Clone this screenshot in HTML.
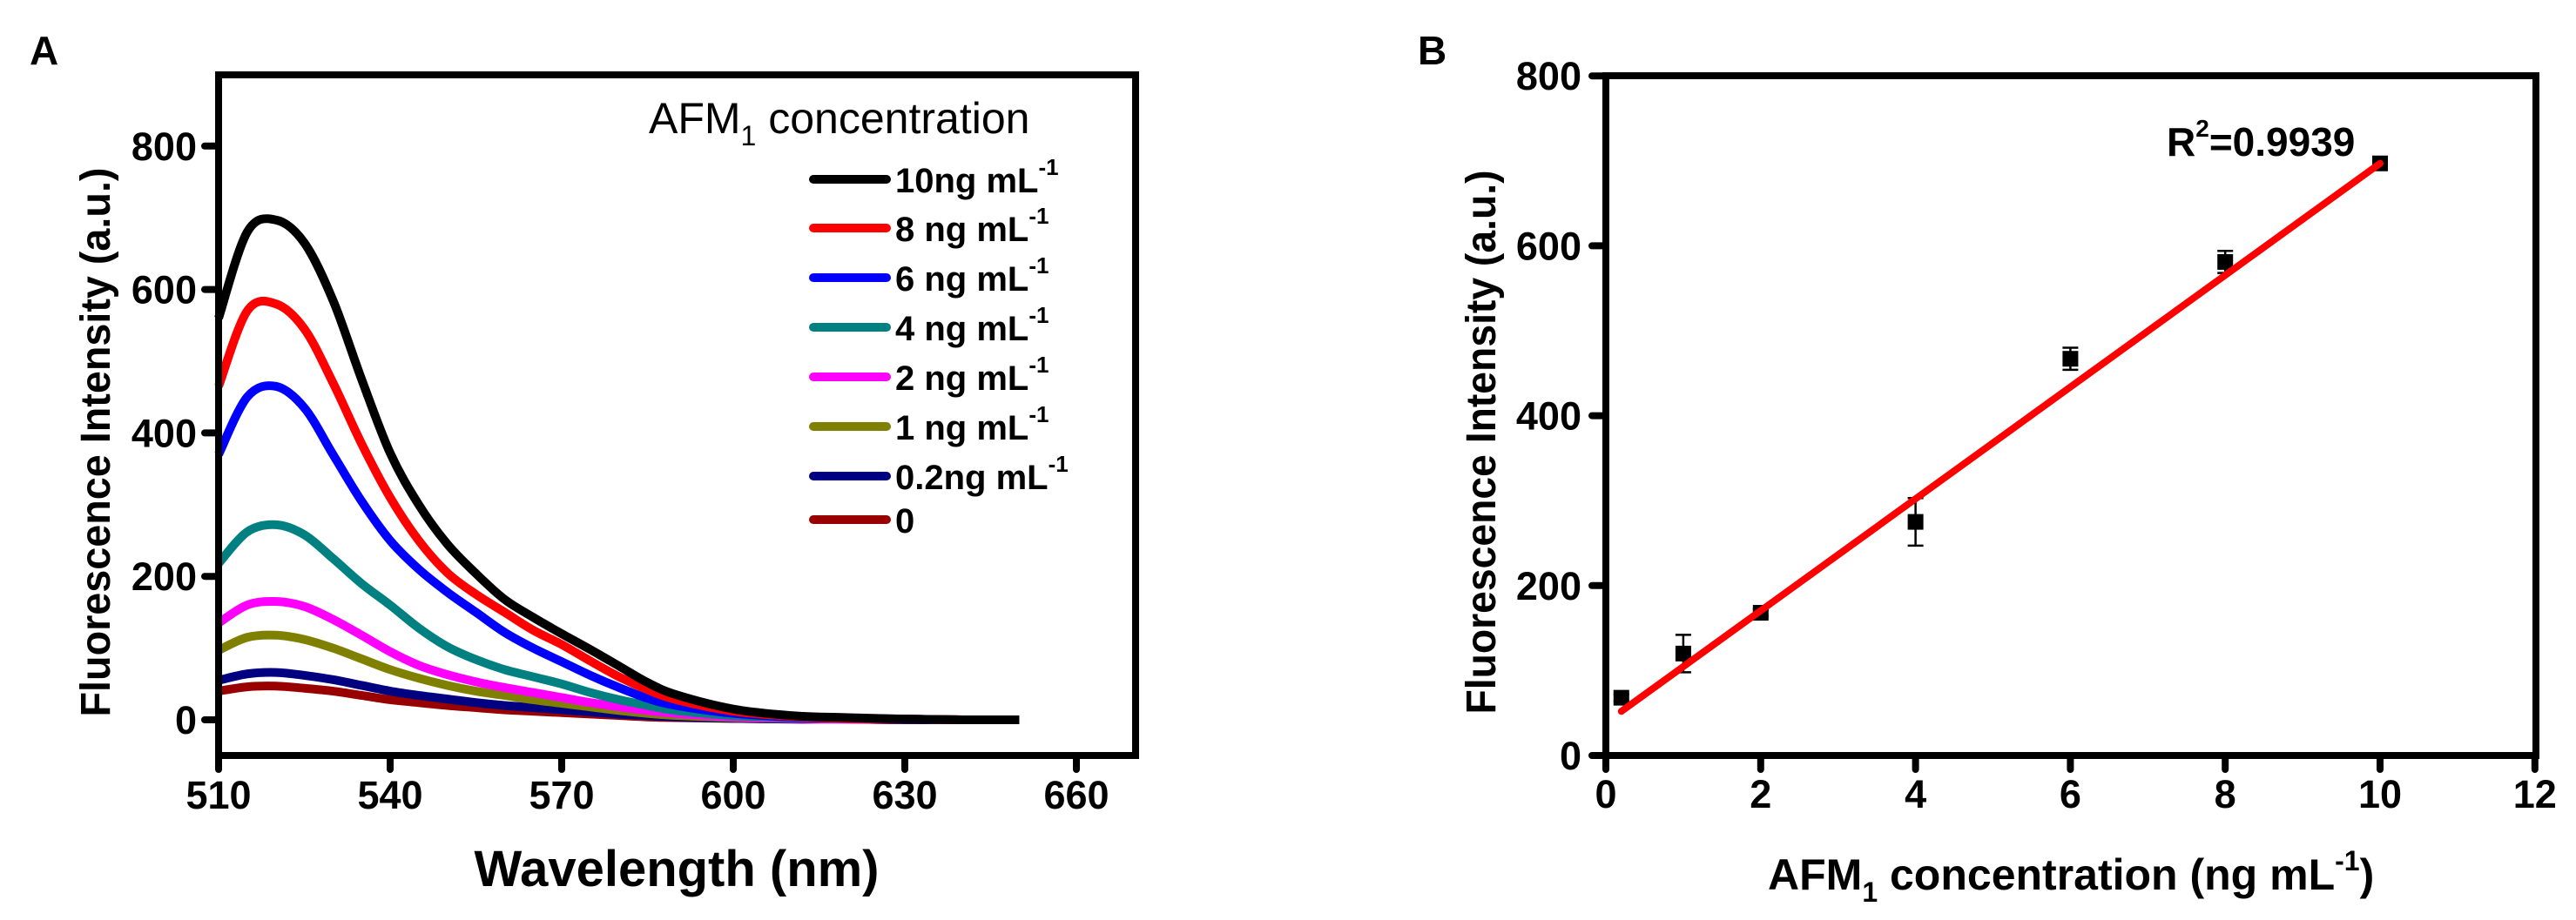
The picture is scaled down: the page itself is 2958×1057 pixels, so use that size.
<!DOCTYPE html>
<html><head><meta charset="utf-8"><style>
html,body{margin:0;padding:0;background:#fff;}
svg{display:block;font-family:"Liberation Sans",Arial,sans-serif;}
</style></head><body>
<svg id="fig" width="2958" height="1057" viewBox="0 0 2958 1057" xmlns="http://www.w3.org/2000/svg">
<rect width="2958" height="1057" fill="#fff"/>
<text x="34" y="74" font-size="46" font-weight="bold">A</text>
<text x="1628" y="74" font-size="46" font-weight="bold">B</text>
<g id="gA"></g>
<g id="gB"></g>
</svg>
<script>
// ---- Panel A data ----
const wavelengths = [510,515,520,525,530,535,540,545,550,555,560,565,570,575,580,585,590,600,610,620,630,640,650];
const s10 = [560,680,697,665,585,475,372,300,245,204,168,143,120,98,75,52,35,15,6,3,1,0,0];
const s8  = [465,570,580,545,470,385,310,250,205,175,150,125,105,82,60,42,28,12,5,2,1,0,0];
const s6  = [370,450,465,435,370,305,250,210,178,150,122,100,81,62,45,30,20,9,4,2,1,0,0];
const s4  = [218,262,272,258,225,190,160,128,102,84,70,60,50,38,28,20,13,6,3,2,1,0,0];
const s2  = [135,160,165,158,140,118,95,76,63,53,45,38,31,24,18,13,9,4,2,1,1,0,0];
const s1  = [97,115,118,112,100,85,70,58,48,40,34,28,23,18,13,9,6,3,2,1,1,0,0];
const s02 = [55,64,66,62,56,48,40,34,29,24,20,17,14,11,8,6,4,2,1,1,0,0,0];
const s0  = [40,46,47,44,40,34,28,24,20,17,14,12,10,8,6,4,3,2,1,1,0,0,0];
const seriesLabels = ["10ng mL","8 ng mL","6 ng mL","4 ng mL","2 ng mL","1 ng mL","0.2ng mL","0"];
const seriesColors = ["#000000","#ff0000","#0000ff","#008080","#ff00ff","#808000","#000080","#990000"];
const xTicksA = [510,540,570,600,630,660];
const yTicksA = [0,200,400,600,800];
// ---- Panel B data ----
const conc = [0.2,1,2,4,6,8,10];
const intensity = [68,120,168,275,467,581,697];
const errs = [4,22,4,28,13,13,4];
const fitX = [0.2,10];
const fitY = [52,697];
const xTicksB = [0,2,4,6,8,10,12];
const yTicksB = [0,200,400,600,800];

const NS="http://www.w3.org/2000/svg";
function mk(parent,tag,attrs,text){const e=document.createElementNS(NS,tag);for(const k in attrs)e.setAttribute(k,attrs[k]);if(text!==undefined)e.textContent=text;parent.appendChild(e);return e;}

// Panel A axes
const ax=v=>251+(v-510)*(197/30);
const ay=v=>827-v*0.824;
const gA=document.getElementById('gA');
function smooth(pts){let d=`M${pts[0][0]},${pts[0][1]}`;for(let i=0;i<pts.length-1;i++){const p0=pts[Math.max(0,i-1)],p1=pts[i],p2=pts[i+1],p3=pts[Math.min(pts.length-1,i+2)];const c1x=p1[0]+(p2[0]-p0[0])/6,c1y=p1[1]+(p2[1]-p0[1])/6,c2x=p2[0]-(p3[0]-p1[0])/6,c2y=p2[1]-(p3[1]-p1[1])/6;d+=` C${c1x},${c1y} ${c2x},${c2y} ${p2[0]},${p2[1]}`;}return d;}
const allSeries=[s10,s8,s6,s4,s2,s1,s02,s0];
for(let k=allSeries.length-1;k>=0;k--){
  const pts=wavelengths.map((w,i)=>[ax(w),ay(allSeries[k][i])]);
  const p=mk(gA,'path',{d:smooth(pts),fill:'none',stroke:seriesColors[k],'stroke-width':10,'stroke-linejoin':'round','stroke-linecap':'butt'});
  
  
}
const boxA=mk(gA,'rect',{x:251,y:86,width:1053,height:782,fill:'none',stroke:'#000','stroke-width':8});


xTicksA.forEach(t=>{
  const l=mk(gA,'line',{x1:ax(t),x2:ax(t),y1:868,y2:884,stroke:'#000','stroke-width':8,'stroke-linecap':'round'});
  
  
  const tx=mk(gA,'text',{x:ax(t),y:929,'font-size':45,'font-weight':'bold','text-anchor':'middle'},String(t));
  
  
});
yTicksA.forEach(t=>{
  const l=mk(gA,'line',{x1:235,x2:251,y1:ay(t),y2:ay(t),stroke:'#000','stroke-width':8,'stroke-linecap':'round'});
  
  
  const tx=mk(gA,'text',{x:226,y:ay(t)+16,'font-size':45,'font-weight':'bold','text-anchor':'end'},String(t));
  
  
});
const yta=mk(gA,'text',{x:0,y:0,'font-size':48,'font-weight':'bold','text-anchor':'middle',transform:'translate(126,508) rotate(-90)',textLength:631,lengthAdjust:'spacingAndGlyphs'},'Fluorescence Intensity (a.u.)');


const xta=mk(gA,'text',{x:777,y:1018,'font-size':58,'font-weight':'bold','text-anchor':'middle',textLength:465,lengthAdjust:'spacingAndGlyphs'},'Wavelength (nm)');


// legend
const lt=mk(gA,'text',{x:745,y:153,'font-size':50},'');


mk(lt,'tspan',{},'AFM');
mk(lt,'tspan',{'font-size':32,dy:14},'1');
mk(lt,'tspan',{dy:-14},' concentration');
const rowsY=[206,262,319,376,433,490,547,597];
seriesLabels.forEach((lab,k)=>{
  const y=rowsY[k];
  const l=mk(gA,'line',{x1:934,x2:1018,y1:y,y2:y,stroke:seriesColors[k],'stroke-width':10,'stroke-linecap':'round'});
  
  
  const t=mk(gA,'text',{x:1028,y:y+15,'font-size':40,'font-weight':'bold'},'');
  
  
  mk(t,'tspan',{},lab);
  if(lab!=="0"){mk(t,'tspan',{'font-size':26,dy:-20},'-1');}
});

// Panel B
const bx=v=>1844+v*88.9;
const by=v=>868-v*0.976;
const gB=document.getElementById('gB');
const boxB=mk(gB,'rect',{x:1844,y:87,width:1068,height:781,fill:'none',stroke:'#000','stroke-width':8});


xTicksB.forEach(t=>{
  const l=mk(gB,'line',{x1:bx(t),x2:bx(t),y1:868,y2:884,stroke:'#000','stroke-width':8,'stroke-linecap':'round'});
  
  
  const tx=mk(gB,'text',{x:bx(t),y:928,'font-size':45,'font-weight':'bold','text-anchor':'middle'},String(t));
  
  
});
yTicksB.forEach(t=>{
  const l=mk(gB,'line',{x1:1828,x2:1844,y1:by(t),y2:by(t),stroke:'#000','stroke-width':8,'stroke-linecap':'round'});
  
  
  const tx=mk(gB,'text',{x:1816,y:by(t)+16,'font-size':45,'font-weight':'bold','text-anchor':'end'},String(t));
  
  
});
conc.forEach((c,i)=>{
  const x=bx(c),y=by(intensity[i]),e=errs[i];
  const g=mk(gB,'g',{});
  
  
  mk(g,'line',{x1:x,x2:x,y1:by(intensity[i]+e),y2:by(intensity[i]-e),stroke:'#000','stroke-width':2.5});
  mk(g,'line',{x1:x-9,x2:x+9,y1:by(intensity[i]+e),y2:by(intensity[i]+e),stroke:'#000','stroke-width':2.5});
  mk(g,'line',{x1:x-9,x2:x+9,y1:by(intensity[i]-e),y2:by(intensity[i]-e),stroke:'#000','stroke-width':2.5});
  mk(g,'rect',{x:x-9,y:y-9,width:18,height:18,fill:'#000'});
});
const fit=mk(gB,'line',{x1:bx(fitX[0]),y1:by(fitY[0]),x2:bx(fitX[1]),y2:by(fitY[1]),stroke:'#ff0000','stroke-width':8,'stroke-linecap':'round'});


const r2=mk(gB,'text',{x:2488,y:179,'font-size':46,'font-weight':'bold'},'');


mk(r2,'tspan',{},'R');
mk(r2,'tspan',{'font-size':28,dy:-22},'2');
mk(r2,'tspan',{dy:22},'=0.9939');
const ytb=mk(gB,'text',{x:0,y:0,'font-size':48,'font-weight':'bold','text-anchor':'middle',transform:'translate(1717,508) rotate(-90)',textLength:625,lengthAdjust:'spacingAndGlyphs'},'Fluorescence Intensity (a.u.)');


const xtb=mk(gB,'text',{x:2030,y:1022,'font-size':50,'font-weight':'bold'},'');


mk(xtb,'tspan',{},'AFM');
mk(xtb,'tspan',{'font-size':32,dy:14},'1');
mk(xtb,'tspan',{dy:-14},' concentration (ng mL');
mk(xtb,'tspan',{'font-size':32,dy:-22},'-1');
mk(xtb,'tspan',{dy:22},')');
</script>
</body></html>
